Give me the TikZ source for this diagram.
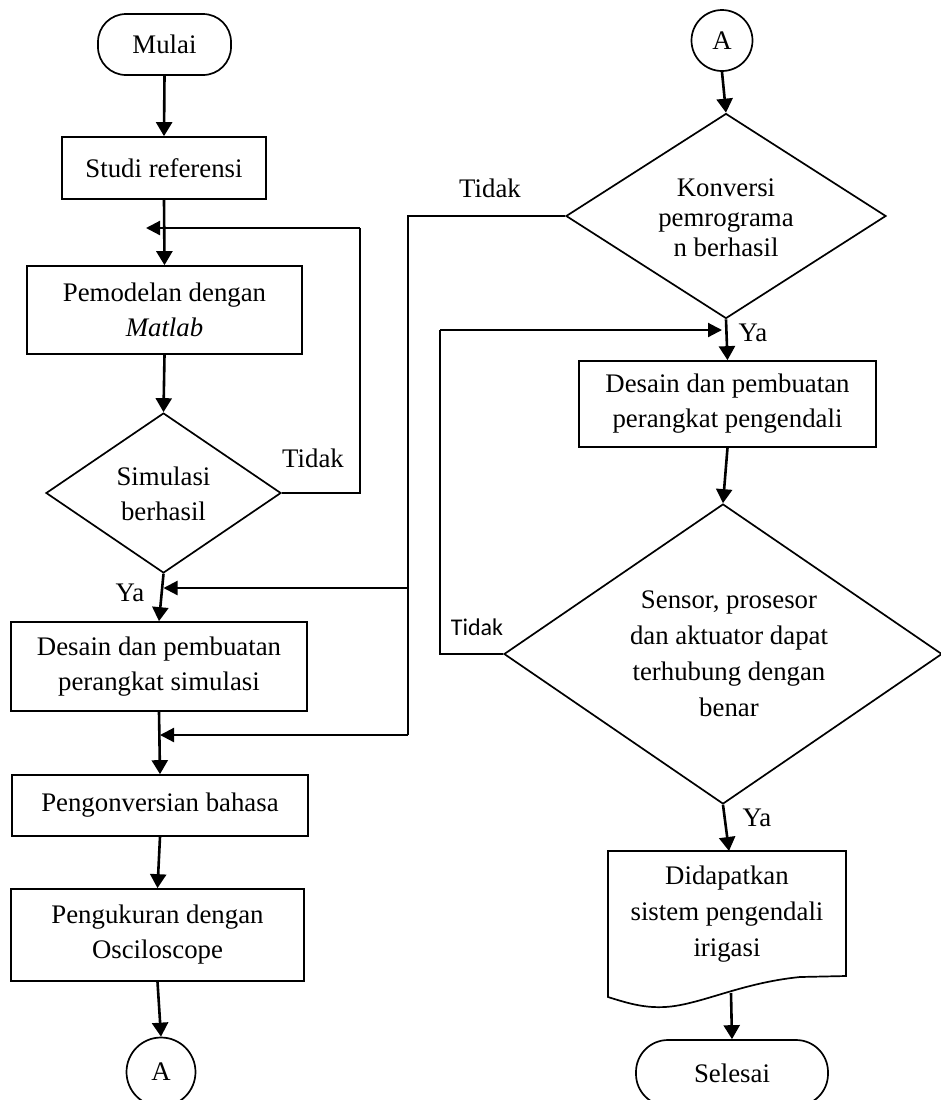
\documentclass[tikz,border=0pt]{standalone}
\usepackage{fontspec}
\setmainfont{Liberation Serif}
\newfontfamily\calib{Carlito}
\usetikzlibrary{shapes.geometric,arrows.meta}
\begin{document}
\begin{tikzpicture}[x=0.5pt,y=-0.5pt,
  every node/.style={font=\fontsize{13.4}{17.5}\selectfont},
  proc/.style={draw,line width=0.85pt,rectangle,inner sep=0pt,align=center},
  term/.style={draw,line width=0.85pt,rectangle,rounded corners=14pt,inner sep=0pt,align=center},
  dec/.style={draw,line width=0.85pt,diamond,inner sep=0pt},
  conn/.style={draw,line width=0.85pt,circle,inner sep=0pt},
  txt/.style={inner sep=0pt,align=center},
  flow/.style={line width=1.3pt,-{Triangle[length=7pt,width=8pt]}},
  flowh/.style={line width=1.1pt,-{Triangle[length=7pt,width=7pt]}},
  loopl/.style={line width=1pt},
  lbl/.style={inner sep=0pt}]
\clip (0,0) rectangle (941,1100);
% ---------- left column ----------
\node[term,minimum width=66.5pt,minimum height=30.5pt] (mulai) at (164.5,44.5) {Mulai};
\node[proc,minimum width=102pt,minimum height=31pt] (studi) at (164,168) {Studi referensi};
\node[proc,minimum width=137.5pt,minimum height=44pt] (model) at (164.5,310) {Pemodelan dengan\\\textit{Matlab}};
\node[dec,minimum width=117.5pt,minimum height=80pt] (sim) at (163.5,493) {};
\node[txt] (simT) at (163.5,493.5) {Simulasi\\berhasil};
\node[proc,minimum width=148pt,minimum height=44.5pt] (desim) at (159,666.5) {Desain dan pembuatan\\perangkat simulasi};
\node[proc,minimum width=148pt,minimum height=30.5pt] (konv) at (160,805.5) {Pengonversian bahasa};
\node[proc,minimum width=146.5pt,minimum height=46pt] (ukur) at (157.5,935) {Pengukuran dengan\\Osciloscope};
\node[conn,minimum size=34.5pt] (Aleft) at (161,1072) {A};
% ---------- right column ----------
\node[conn,minimum size=30.5pt] (Aright) at (722,40.5) {A};
\node[dec,minimum width=160pt,minimum height=102.5pt] (konvd) at (726,216) {};
\node[txt,font=\fontsize{13.4}{15}\selectfont] (konvdT) at (726,218) {Konversi\\pemrograma\\n berhasil};
\node[proc,minimum width=148.5pt,minimum height=43pt] (kendali) at (727.5,404) {Desain dan pembuatan\\perangkat pengendali};
\node[dec,minimum width=219pt,minimum height=150pt] (sensor) at (723,654) {};
\node[txt,font=\fontsize{13.4}{18}\selectfont] (sensorT) at (729,654) {Sensor, prosesor\\dan aktuator dapat\\terhubung dengan\\benar};
\draw[line width=0.85pt] (608,851) -- (846,851) -- (846,976) -- (800,977)
  .. controls (740,983) and (700,1005) .. (665,1007)
  .. controls (645,1008) and (630,1004) .. (608,997) -- cycle;
\coordinate (docTop) at (729,851);
\coordinate (docBot) at (731,993);
\node[txt,font=\fontsize{13.4}{18}\selectfont] (docT) at (727,914) {Didapatkan\\sistem pengendali\\irigasi};
\node[term,minimum width=96pt,minimum height=33pt,rounded corners=16pt] (selesai) at (732,1073) {Selesai};
% ---------- main flow ----------
\draw[flow] (mulai.south) -- (studi.north);
\draw[flow] (studi.south) -- (model.north);
\draw[flow] (model.south) -- (sim.north);
\draw[flow] (sim.south) -- (desim.north);
\draw[flow] (desim.south) -- (konv.north);
\draw[flow] (konv.south) -- (ukur.north);
\draw[flow] (ukur.south) -- (Aleft.north);
\draw[flow] (Aright.south) -- (konvd.north);
\draw[flow] (konvd.south) -- (kendali.north);
\draw[flow] (kendali.south) -- (sensor.north);
\draw[flow] (sensor.south) -- (docTop);
\draw[flow] (docBot) -- (selesai.north);
% ---------- loops ----------
\coordinate (fb1) at (360,228);
\coordinate (fb1tip) at (146,228);
\draw[loopl] (sim.east) -| (fb1);
\draw[flowh] (fb1) -- (fb1tip);
\coordinate (j1) at (408,588);
\coordinate (j2) at (408,735);
\draw[loopl] (konvd.west) -| (j2);
\draw[flowh] (j1) -- (j1 -| sim.south);
\draw[flowh] (j2) -- (j2 -| konv.north);
\coordinate (fb2) at (440,330);
\coordinate (fb2tip) at (722,330);
\draw[loopl] (sensor.west) -| (fb2);
\draw[flowh] (fb2) -- (fb2tip);
% ---------- labels ----------
\node[lbl] (t1) at (313,458) {Tidak};
\node[lbl] (y1) at (130,593) {Ya};
\node[lbl] (t2) at (490,188) {Tidak};
\node[lbl] (y2) at (753,333) {Ya};
\node[lbl,font=\calib\fontsize{12}{14}\selectfont] (t3) at (477,627) {Tidak};
\node[lbl] (y3) at (757,818) {Ya};
\end{tikzpicture}
\end{document}
